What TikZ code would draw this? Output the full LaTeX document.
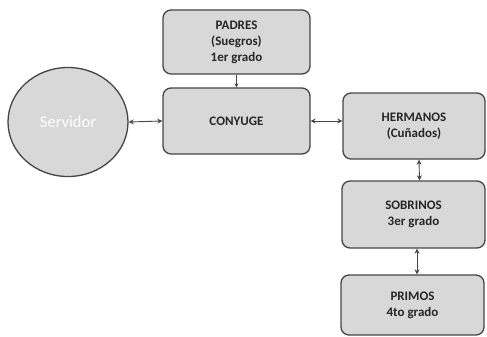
\documentclass[tikz,border=0pt]{standalone}
\usepackage{fontspec}
\setmainfont{Carlito}
\usetikzlibrary{shapes.geometric,arrows.meta}
\definecolor{boxfill}{HTML}{D8D8D8}
\definecolor{boxline}{HTML}{454545}
\tikzset{
  famb/.style={draw=boxline, fill=boxfill, line width=1.3pt, rounded corners=8pt,
    align=center, font=\fontsize{13}{16}\selectfont\bfseries, text=black!85, inner sep=0pt},
  lnk/.style={draw=boxline, line width=0.9pt, {Stealth[length=5pt,width=5pt]}-{Stealth[length=5pt,width=5pt]}},
  lnkd/.style={draw=boxline, line width=0.9pt, -{Stealth[length=4pt,width=4pt]}}
}
\begin{document}
\begin{tikzpicture}[x=1pt,y=-1pt]
\useasboundingbox (0,0) rectangle (487,337);
\node[draw=boxline, fill=boxfill, line width=1.3pt, ellipse, minimum width=120pt, minimum height=109pt, inner sep=0pt,
  text=white, font=\fontsize{16.5}{19}\selectfont] (serv) at (68,122) {Servidor};
\node[famb, minimum width=147pt, minimum height=64pt] (padres) at (236.5,42) {PADRES\\(Suegros)\\1er grado};
\node[famb, minimum width=147pt, minimum height=66pt] (cony) at (236.5,121) {CONYUGE};
\node[famb, minimum width=142pt, minimum height=66pt] (herm) at (414,126) {HERMANOS\\(Cuñados)};
\node[famb, minimum width=143pt, minimum height=67pt] (sobr) at (413.5,214.5) {SOBRINOS\\3er grado};
\node[famb, minimum width=143pt, minimum height=60pt] (prim) at (412.5,305) {PRIMOS\\4to grado};
\draw[lnk] (serv.east) -- (cony.west);
\draw[lnk] (cony.east) -- (cony.east -| herm.west);
\draw[lnkd] (padres.south) -- (cony.north);
\draw[lnk] ([xshift=5pt]herm.south) -- ([xshift=5.5pt]herm.south |- sobr.north);
\draw[lnk] ([xshift=3.5pt]sobr.south) -- ([xshift=3.5pt]sobr.south |- prim.north);
\end{tikzpicture}
\end{document}
